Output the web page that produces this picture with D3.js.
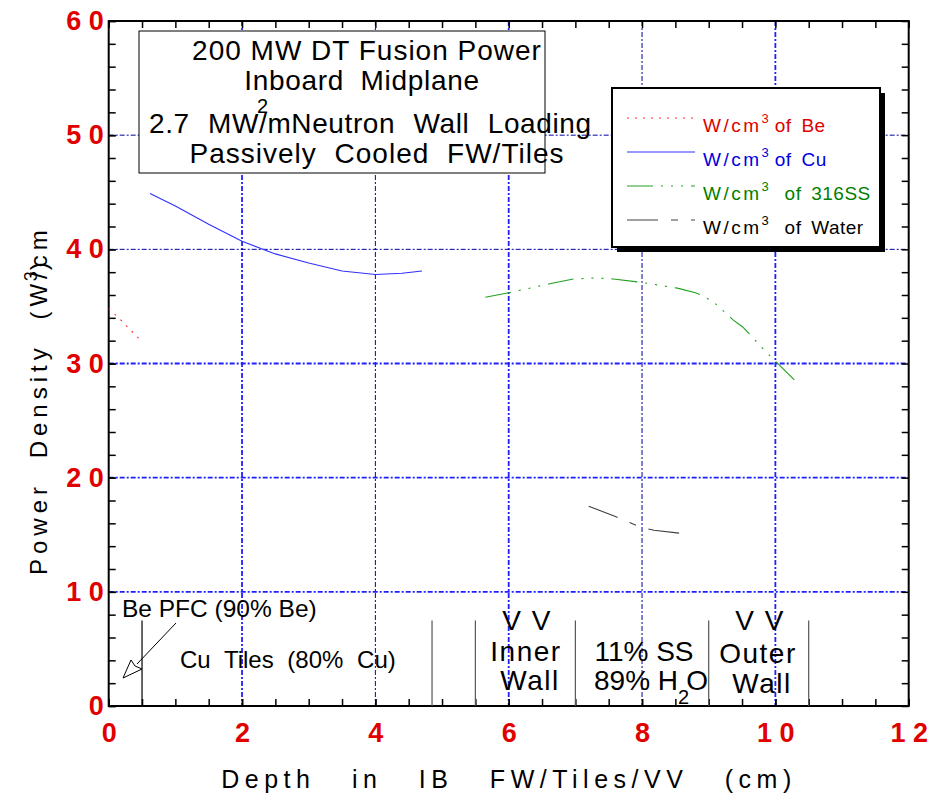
<!DOCTYPE html>
<html>
<head>
<meta charset="utf-8">
<script src="https://cdn.jsdelivr.net/npm/d3@7"></script>
<style>
  body { margin: 0; background: #fff; }
  svg text { font-family: "Liberation Sans", Arial, sans-serif; }
</style>
</head>
<body>
<div id="chart"></div>
<script>
// Data: [depth cm, power density W/cm3]
const beSeries    = [[0, 34.8], [0.15, 34.0], [0.3, 33.1], [0.45, 32.2]];
const cuSeries    = [[0.62, 44.9], [1, 43.8], [1.5, 42.2], [2, 40.7], [2.5, 39.6], [3, 38.8],
                     [3.5, 38.1], [4, 37.8], [4.4, 37.9], [4.7, 38.1]];
const ssSeries    = [[5.65, 35.8], [6, 36.2], [6.63, 37.0], [6.97, 37.4], [7.3, 37.5], [7.57, 37.4],
                     [8, 37.1], [8.53, 36.6], [8.8, 36.2], [8.92, 35.9], [9.07, 35.4], [9.37, 33.8],
                     [9.51, 33.2], [9.88, 30.9], [10.33, 28.3]];
const waterSeries = [[7.2, 17.5], [7.6, 16.6], [7.98, 15.65], [8.18, 15.4], [8.62, 15.1]];

const xTicks = [0, 2, 4, 6, 8, 10, 12];
const yTicks = [0, 10, 20, 30, 40, 50, 60];
// grid lines drawn brighter/heavier in the original
const xBrightGrid = [2, 6, 10];
const yBrightGrid = [10, 20, 30];
// region borders along the depth axis
const regionBorders = [0.5, 4.85, 5.5, 7.0, 9.0, 10.5];

const series = [
  { name: 'Be',    label: 'of Be',     data: beSeries,    color: '#ff3030', dash: '2,6',  text: '#e00000' },
  { name: 'Cu',    label: 'of Cu',     data: cuSeries,    color: '#3030ff', dash: null,   text: '#0000e0' },
  { name: 'SS',    label: ' of 316SS', data: ssSeries,    color: '#20a020', dash: '26,8,2,8,2,8,2,8', text: '#008000' },
  { name: 'Water', label: ' of Water', data: waterSeries, color: '#404040', dash: '31,13,7,13', text: '#000' }
];

// Canvas
const svgW = 934, svgH = 800;
const margin = { top: 21, left: 108.7 };
const w = 800, h = 685;

const svg = d3.select('#chart').append('svg').attr('width', svgW).attr('height', svgH);
const g = svg.append('g').attr('transform', `translate(${margin.left},${margin.top})`);

const x = d3.scaleLinear().domain([0, 12]).range([0, w]);
const y = d3.scaleLinear().domain([0, 60]).range([h, 0]);

// grid
const grid = g.append('g').attr('class', 'grid').attr('stroke-dasharray', '5,2,2,2');
grid.selectAll('.gx').data(xTicks.slice(1, -1)).enter().append('line')
  .attr('x1', d => x(d)).attr('x2', d => x(d)).attr('y1', 0).attr('y2', h)
  .attr('stroke', d => xBrightGrid.includes(d) ? '#2020ff' : '#0000a0')
  .attr('stroke-width', d => xBrightGrid.includes(d) ? 1.8 : 1);
grid.selectAll('.gy').data(yTicks.slice(1, -1)).enter().append('line')
  .attr('y1', d => y(d)).attr('y2', d => y(d)).attr('x1', 0).attr('x2', w)
  .attr('stroke', d => yBrightGrid.includes(d) ? '#2020ff' : '#0000a0')
  .attr('stroke-width', d => yBrightGrid.includes(d) ? 1.8 : 1);

// ticks, pointing inward on all four sides
const spaced = d => String(d).split('').join(' ');
const tickLen = 7;
const xMinor = d3.range(0, 12.01, 0.5);
const yMinor = d3.range(0, 60.01, 2);

function styleAxis(sel) {
  sel.select('.domain').remove();
  sel.selectAll('line').attr('stroke', '#000').attr('stroke-width', 1.5);
  sel.selectAll('text').attr('fill', '#e00000').style('font-weight', 'bold').style('font-size', '27px');
}

g.append('g').attr('transform', `translate(0,${h})`)
  .call(d3.axisBottom(x).tickValues(xTicks).tickSizeInner(-tickLen).tickSizeOuter(0).tickPadding(17).tickFormat(spaced))
  .call(styleAxis);
g.append('g').attr('transform', `translate(0,${h})`)
  .call(d3.axisBottom(x).tickValues(xMinor).tickSize(-tickLen).tickFormat(''))
  .call(styleAxis);
g.append('g')
  .call(d3.axisTop(x).tickValues(xMinor).tickSize(-tickLen).tickFormat(''))
  .call(styleAxis);
g.append('g')
  .call(d3.axisLeft(y).tickValues(yTicks).tickSizeInner(-tickLen).tickSizeOuter(0).tickPadding(5).tickFormat(spaced))
  .call(styleAxis);
g.append('g')
  .call(d3.axisLeft(y).tickValues(yMinor).tickSize(-tickLen).tickFormat(''))
  .call(styleAxis);
g.append('g').attr('transform', `translate(${w},0)`)
  .call(d3.axisRight(y).tickValues(yMinor).tickSize(-tickLen).tickFormat(''))
  .call(styleAxis);

// frame
g.append('rect').attr('x', 0).attr('y', 0).attr('width', w).attr('height', h)
  .attr('fill', 'none').attr('stroke', '#000').attr('stroke-width', 2);

// lines
const lineGen = d3.line().x(d => x(d[0])).y(d => y(d[1]));
g.append('g').attr('class', 'lines').selectAll('path').data(series).enter().append('path')
  .attr('d', d => lineGen(d.data))
  .attr('fill', 'none')
  .attr('stroke', d => d.color)
  .attr('stroke-width', 1.1)
  .attr('stroke-dasharray', d => d.dash);

// region borders at bottom
g.append('g').selectAll('line').data(regionBorders).enter().append('line')
  .attr('x1', d => x(d)).attr('x2', d => x(d))
  .attr('y1', y(7.5)).attr('y2', h)
  .attr('stroke', (d, i) => i === 0 ? '#000' : '#555').attr('stroke-width', 1.2);

// region annotations
const ann = svg.append('g').attr('fill', '#000');
ann.append('text').attr('x', 122).attr('y', 617).style('font-size', '24.5px').text('Be PFC (90% Be)');
ann.append('text').attr('x', 180).attr('y', 668).style('font-size', '24px').style('word-spacing', '7px')
  .text('Cu Tiles (80% Cu)');

function block(cx, lines) {
  lines.forEach(l => {
    ann.append('text').attr('x', cx + (l.dx || 0)).attr('y', l.y).attr('text-anchor', 'middle')
      .style('font-size', '28px').style('letter-spacing', '1.5px').text(l.t);
  });
}
block(527, [{ t: 'V V', y: 630 }, { t: 'Inner', y: 661, dx: -1 }, { t: 'Wall', y: 690, dx: 3 }]);
block(760, [{ t: 'V V', y: 630 }, { t: 'Outer', y: 663, dx: -2 }, { t: 'Wall', y: 693, dx: 2 }]);
ann.append('text').attr('x', 644).attr('y', 661).attr('text-anchor', 'middle')
  .style('font-size', '28px').text('11% SS');
const h2o = ann.append('text').attr('x', 594).attr('y', 690).style('font-size', '28px');
h2o.append('tspan').text('89% H');
h2o.append('tspan').attr('dy', 14).style('font-size', '20px').text('2');
h2o.append('tspan').attr('dy', -14).attr('dx', -3).text('O');

// arrow to Be PFC
const tip = [123, 678];
ann.append('line').attr('x1', 176).attr('y1', 623).attr('x2', 137).attr('y2', 664)
  .attr('stroke', '#000').attr('stroke-width', 1);
ann.append('path')
  .attr('d', `M${tip[0]},${tip[1]} L131,660 L135,666 L142,669 Z`)
  .attr('fill', '#fff').attr('stroke', '#000').attr('stroke-width', 1);

// title box
svg.append('rect').attr('x', 139).attr('y', 31).attr('width', 406).attr('height', 142)
  .attr('fill', '#fff').attr('stroke', '#000').attr('stroke-width', 1);
const tb = svg.append('g').attr('fill', '#000').style('font-size', '28px');
tb.append('text').attr('x', 367).attr('y', 60).attr('text-anchor', 'middle').style('letter-spacing', '1px')
  .text('200 MW DT Fusion Power');
tb.append('text').attr('x', 362).attr('y', 90).attr('text-anchor', 'middle')
  .style('letter-spacing', '0.7px').style('word-spacing', '8px')
  .text('Inboard Midplane');
const l3 = tb.append('text').attr('x', 149).attr('y', 133).style('letter-spacing', '0.6px').style('word-spacing', '10px');
l3.append('tspan').text('2.7 MW/m');
l3.append('tspan').text('Neutron Wall Loading');
tb.append('text').attr('x', 257).attr('y', 113).style('font-size', '20px').text('2');
tb.append('text').attr('x', 377).attr('y', 163).attr('text-anchor', 'middle')
  .style('letter-spacing', '1px').style('word-spacing', '9px')
  .text('Passively Cooled FW/Tiles');

// legend
const lg = svg.append('g').attr('transform', 'translate(612,88)');
lg.append('rect').attr('x', 5).attr('y', 5).attr('width', 268).attr('height', 159).attr('fill', '#000');
lg.append('rect').attr('x', 0).attr('y', 0).attr('width', 268).attr('height', 159)
  .attr('fill', '#fff').attr('stroke', '#000').attr('stroke-width', 2);
const rows = lg.selectAll('.row').data(series).enter().append('g')
  .attr('transform', (d, i) => `translate(0,${30 + i * 34})`);
rows.append('line').attr('x1', 15).attr('x2', 83).attr('y1', 0).attr('y2', 0)
  .attr('stroke', d => d.color).attr('stroke-width', 1.2).attr('stroke-dasharray', d => d.dash);
const lt = rows.append('text').attr('x', 91).attr('y', 14).attr('fill', d => d.text)
  .style('font-size', '19px');
lt.append('tspan').style('letter-spacing', '2.5px').text('W/cm');
lt.append('tspan').attr('dy', -9).style('font-size', '13px').text('3');
lt.append('tspan').attr('dy', 9).attr('dx', 6).style('letter-spacing', '0.5px').style('word-spacing', '4px')
  .text(d => d.label);

// axis titles
svg.append('text').attr('x', 509).attr('y', 788).attr('text-anchor', 'middle')
  .style('font-size', '25px').style('letter-spacing', '5.5px').style('word-spacing', '24px')
  .text('Depth in IB FW/Tiles/VV (cm)');
const yt = svg.append('text').attr('transform', 'translate(47,575) rotate(-90)')
  .style('font-size', '24px').style('letter-spacing', '5px').style('word-spacing', '12px');
yt.append('tspan').text('Power Density (W/cm');
yt.append('tspan').attr('dx', -56).attr('dy', -10).style('font-size', '18px').text('3');
yt.append('tspan').attr('dx', -4).attr('dy', 10).text(')');
</script>
</body>
</html>
